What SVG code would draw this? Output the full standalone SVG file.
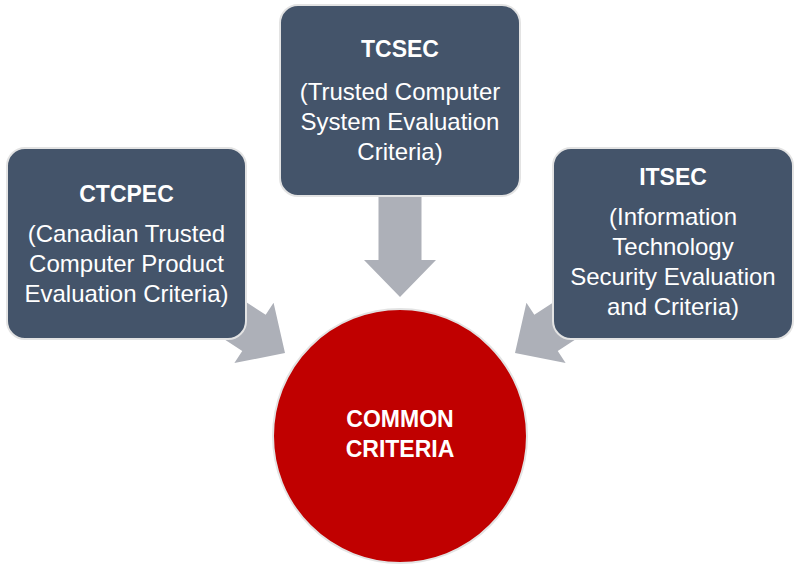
<svg xmlns="http://www.w3.org/2000/svg" width="800" height="570" viewBox="0 0 800 570">
<defs>
<style>
.box{fill:#44546A;stroke:#E3E3E3;stroke-width:2}
.arrow{fill:#ADB0B8}
.t{font-family:"Liberation Sans",Arial,sans-serif;fill:#FFFFFF;text-anchor:middle;font-size:24px}
.b{font-weight:bold;font-size:23px}
.circle{fill:#C00000;stroke:#E3E3E3;stroke-width:2}
</style>
<path id="arr" d="M -21.5 -110 L 21.5 -110 L 21.5 -37 L 36 -37 L 0 0 L -36 -37 L -21.5 -37 Z"/>
</defs>
<rect width="800" height="570" fill="#FFFFFF"/>
<g id="connectors">
<use href="#arr" class="arrow" transform="translate(400,297)"/>
<use href="#arr" class="arrow" transform="translate(285,353) rotate(-57)"/>
<use href="#arr" class="arrow" transform="translate(515,353) rotate(57)"/>
</g>
<g id="tcsec">
<rect class="box" x="280" y="5" width="240" height="191" rx="18"/>
<text class="t b" x="400" y="57">TCSEC</text>
<text class="t" x="400" y="100">(Trusted Computer</text>
<text class="t" x="400" y="130">System Evaluation</text>
<text class="t" x="400" y="160">Criteria)</text>
</g>
<g id="ctcpec">
<rect class="box" x="7" y="148" width="239" height="191" rx="18"/>
<text class="t b" x="126.5" y="202">CTCPEC</text>
<text class="t" x="126.5" y="242">(Canadian Trusted</text>
<text class="t" x="126.5" y="272">Computer Product</text>
<text class="t" x="126.5" y="302">Evaluation Criteria)</text>
</g>
<g id="itsec">
<rect class="box" x="553" y="148" width="240" height="191" rx="18"/>
<text class="t b" x="673" y="185">ITSEC</text>
<text class="t" x="673" y="225">(Information</text>
<text class="t" x="673" y="255">Technology</text>
<text class="t" x="673" y="285">Security Evaluation</text>
<text class="t" x="673" y="315">and Criteria)</text>
</g>
<g id="common-criteria">
<circle class="circle" cx="400" cy="436" r="127"/>
<text class="t b" x="400" y="427">COMMON</text>
<text class="t b" x="400" y="457">CRITERIA</text>
</g>
</svg>
